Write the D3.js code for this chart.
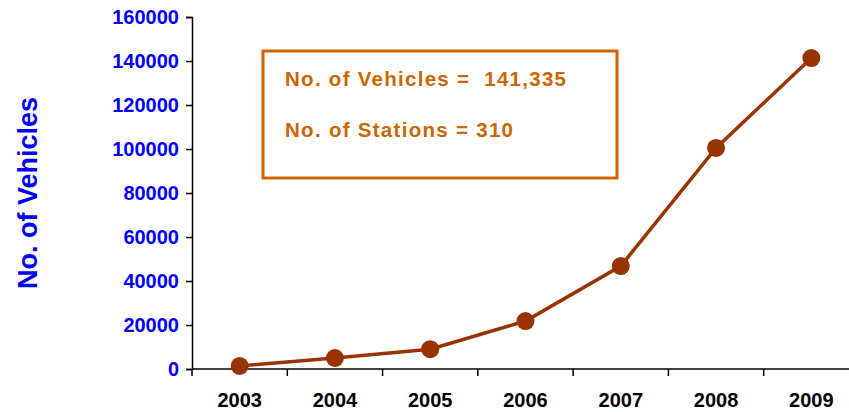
<!DOCTYPE html>
<html>
<head>
<meta charset="utf-8">
<script src="https://cdn.jsdelivr.net/npm/d3@7"></script>
<style>
  body { margin: 0; background: #fff; }
  svg { font-family: 'Liberation Sans', Arial, sans-serif; font-weight: bold; }
</style>
</head>
<body>
<div id="chart"></div>
<script>
// Chart data
const years = ['2003', '2004', '2005', '2006', '2007', '2008', '2009'];
const vehicles = [1400, 5000, 9000, 21800, 46800, 100500, 141335];
const yTicks = [0, 20000, 40000, 60000, 80000, 100000, 120000, 140000, 160000];
const noteLines = ['No. of Vehicles =  141,335', 'No. of Stations = 310'];

const width = 849;
const height = 412;
const margin = { top: 17, right: -10, bottom: 43, left: 192 };

const svg = d3.select('#chart')
  .append('svg')
  .attr('width', width)
  .attr('height', height);

// Scales
const x = d3.scaleBand()
  .domain(years)
  .range([margin.left, width - margin.right]);
const y = d3.scaleLinear()
  .domain([0, 160000])
  .range([height - margin.bottom, margin.top]);

// Y axis
const yAxis = svg.append('g')
  .attr('transform', `translate(${margin.left},0)`)
  .call(d3.axisLeft(y).tickValues(yTicks).tickSize(6).tickPadding(7).tickFormat(d3.format('d')));
yAxis.select('.domain').attr('stroke', '#000').attr('stroke-width', 1.5);
yAxis.selectAll('line').attr('stroke', '#000').attr('stroke-width', 1.5);
yAxis.selectAll('text')
  .attr('fill', '#0000ff')
  .style('font-size', '20px')
  .style('font-weight', 'bold');

// X axis (ticks at band edges)
const xAxis = svg.append('g')
  .attr('transform', `translate(0,${y(0)})`);
xAxis.append('line')
  .attr('x1', margin.left)
  .attr('x2', width)
  .attr('stroke', '#000')
  .attr('stroke-width', 1.5);
xAxis.selectAll('.edge')
  .data(years)
  .enter()
  .append('line')
  .attr('class', 'edge')
  .attr('x1', (d) => x(d))
  .attr('x2', (d) => x(d))
  .attr('y1', 0)
  .attr('y2', 7)
  .attr('stroke', '#000')
  .attr('stroke-width', 1.5);
xAxis.selectAll('text')
  .data(years)
  .enter()
  .append('text')
  .attr('x', (d) => x(d) + x.bandwidth() / 2)
  .attr('y', 38)
  .attr('text-anchor', 'middle')
  .attr('fill', '#000')
  .style('font-size', '20px')
  .text((d) => d);

// Y axis title
svg.append('text')
  .attr('transform', `translate(37,${(y(0) + y(160000)) / 2}) rotate(-90)`)
  .attr('text-anchor', 'middle')
  .attr('fill', '#0000ff')
  .style('font-size', '27px')
  .text('No. of Vehicles');

// Note box
svg.append('rect')
  .attr('x', 263)
  .attr('y', 51)
  .attr('width', 354)
  .attr('height', 127)
  .attr('fill', 'none')
  .attr('stroke', '#cc6600')
  .attr('stroke-width', 3);
const noteWidths = [281, 228];
svg.selectAll('.note')
  .data(noteLines)
  .enter()
  .append('text')
  .attr('class', 'note')
  .attr('x', 285)
  .attr('y', (d, i) => 86 + i * 51)
  .attr('fill', '#cc6600')
  .attr('textLength', (d, i) => noteWidths[i])
  .attr('lengthAdjust', 'spacing')
  .style('font-size', '20.5px')
  .style('white-space', 'pre')
  .text((d) => d);

// Line
const line = d3.line()
  .x((d, i) => x(years[i]) + x.bandwidth() / 2)
  .y((d) => y(d));
svg.append('path')
  .datum(vehicles)
  .attr('d', line)
  .attr('fill', 'none')
  .attr('stroke', '#993300')
  .attr('stroke-width', 3.5);

// Markers
svg.selectAll('.pt')
  .data(vehicles)
  .enter()
  .append('circle')
  .attr('class', 'pt')
  .attr('cx', (d, i) => x(years[i]) + x.bandwidth() / 2)
  .attr('cy', (d) => y(d))
  .attr('r', 9)
  .attr('fill', '#993300');
</script>
</body>
</html>
